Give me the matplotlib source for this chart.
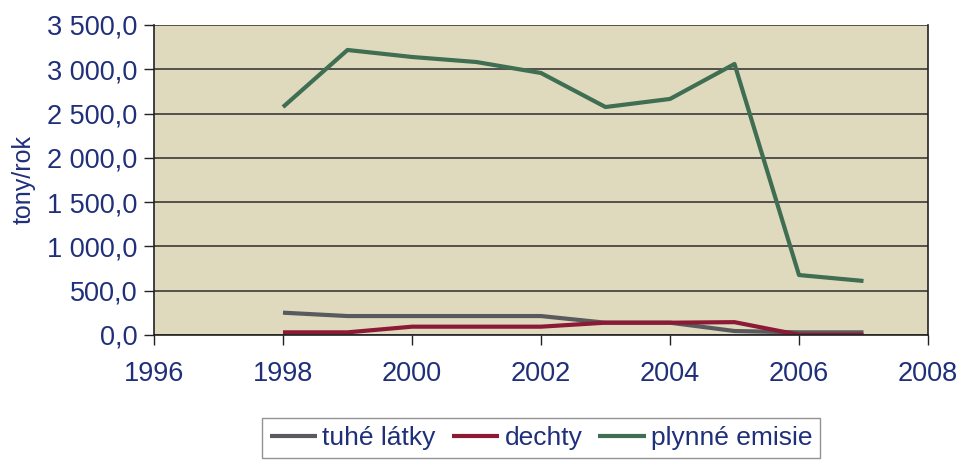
import matplotlib.pyplot as plt
from matplotlib.ticker import FuncFormatter, MultipleLocator

years = [1998, 1999, 2000, 2001, 2002, 2003, 2004, 2005, 2006, 2007]
tuhe_latky = [252, 214, 214, 214, 214, 139, 139, 45, 30, 30]
dechty = [30, 30, 94, 94, 94, 139, 139, 145, 2, 2]
plynne_emisie = [2574, 3218, 3139, 3082, 2958, 2574, 2665, 3060, 677, 610]

navy = '#1F2F7A'
plt.rcParams['font.family'] = ['Liberation Sans', 'DejaVu Sans']


def cz_format(v, pos):
    s = '{:,.1f}'.format(v)
    return s.replace(',', ' ').replace('.', ',')


fig = plt.figure(figsize=(9.62, 4.61), dpi=100)
ax = fig.add_axes([154 / 962, 1 - 335 / 461, (928 - 154) / 962, 310 / 461])
ax.set_facecolor('#DFDABE')

ax.plot(years, tuhe_latky, color='#595A5E', lw=3, label='tuhé látky', solid_capstyle='butt')
ax.plot(years, dechty, color='#8C1A35', lw=3, label='dechty', solid_capstyle='butt')
ax.plot(years, plynne_emisie, color='#3F6E53', lw=3, label='plynné emisie', solid_capstyle='butt')

ax.set_xlim(1996, 2008)
ax.set_ylim(0, 3500)
ax.xaxis.set_major_locator(MultipleLocator(2))
ax.yaxis.set_major_locator(MultipleLocator(500))
ax.yaxis.set_major_formatter(FuncFormatter(cz_format))
ax.grid(axis='y', color='#3A3A38', lw=1.2)
ax.set_axisbelow(True)

for side in ['left', 'right', 'bottom']:
    ax.spines[side].set_color('#222222')
    ax.spines[side].set_linewidth(1.2)
ax.spines['top'].set_visible(False)

ax.tick_params(axis='both', colors='#222222', labelcolor=navy, labelsize=19.5,
               direction='out', length=7, width=1)
ax.tick_params(axis='y', pad=5)
ax.tick_params(axis='x', pad=12)

ax.set_ylabel('tony/rok', color=navy, fontsize=18, labelpad=8)

leg = fig.legend(loc='upper center', bbox_to_anchor=(541 / 962, 1 - 418 / 461),
                 ncol=3, fontsize=19, frameon=True, fancybox=False,
                 edgecolor='#777777', handlelength=1.8, handletextpad=0.2,
                 columnspacing=0.6, borderpad=0.3, borderaxespad=0)
leg.get_frame().set_linewidth(1)
for t in leg.get_texts():
    t.set_color(navy)

fig.savefig('out.png', dpi=100)
